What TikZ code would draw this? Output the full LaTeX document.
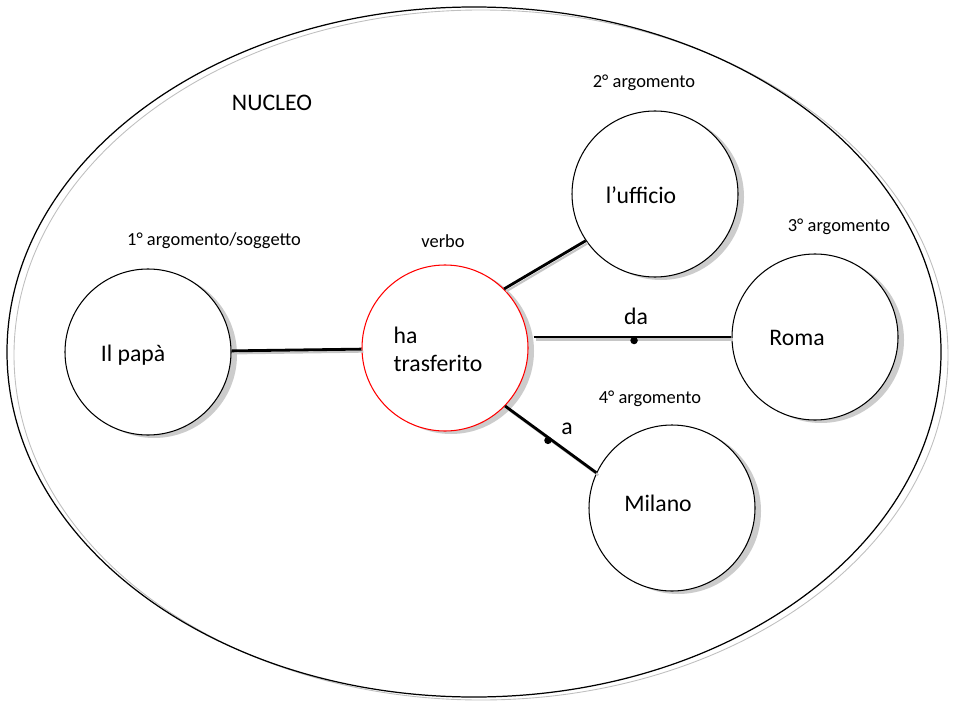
\documentclass[tikz,border=0pt]{standalone}
\usepackage{fontspec}
\setmainfont{Carlito}
\usetikzlibrary{shadows}
\usetikzlibrary{positioning}

\begin{document}
\begin{tikzpicture}[
  arg/.style={circle, draw, line width=0.6pt, fill=white, minimum size=3.32cm, inner sep=0pt,
    drop shadow={shadow xshift=0.12cm, shadow yshift=-0.06cm, fill=gray!40, opacity=1}},
  word/.style={font=\fontsize{13.5}{16}\selectfont, inner sep=1pt},
  tag/.style={font=\fontsize{10.5}{12}\selectfont, inner sep=1pt},
  link/.style={line width=1.6pt, preaction={draw=gray!45, line width=1.2pt, transform canvas={shift={(0.04cm,-0.05cm)}}}},
  prep/.style={circle, fill=black, minimum size=0.15cm, inner sep=0pt}]

 \useasboundingbox (0,0) rectangle (19.06,-14.18);

 % nucleo
 \draw[gray!50, line width=0.5pt] (9.62,-7.10) ellipse [x radius=9.34, y radius=6.90];
 \draw[line width=0.7pt] (9.48,-7.04) ellipse [x radius=9.34, y radius=6.90];
 \node[word] (nucleo) at (5.44,-2.06) {NUCLEO};

 % argomenti
 \node[arg] (papa) at (2.96,-7.04) {};
 \node[arg, draw=red] (ha) at (8.90,-6.96) {};
 \node[arg] (uff) at (13.10,-3.88) {};
 \node[arg] (roma) at (16.30,-6.74) {};
 \node[arg] (mil) at (13.44,-10.16) {};

 \node[word] (papatxt) at (2.66,-7.10) {Il papà};
 \node[word, align=left] (hatxt) at (8.76,-6.98) {ha\\trasferito};
 \node[word] (ufftxt) at (12.82,-3.90) {l’ufficio};
 \node[word] (romatxt) at (15.94,-6.76) {Roma};
 \node[word] (miltxt) at (13.16,-10.06) {Milano};

 \node[tag] (arg1) at (4.28,-4.82) {1° argomento/soggetto};
 \node[tag] (verbo) at (8.86,-4.82) {verbo};
 \node[tag] (arg2) at (12.88,-1.66) {2° argomento};
 \node[tag] (arg3) at (16.78,-4.54) {3° argomento};
 \node[tag] (arg4) at (13.00,-7.98) {4° argomento};

 % legami
 \draw[link] (papa) -- (ha);
 \draw[link] (ha.45) -- (uff.214);
 \draw[link, shorten <=0.1cm] (ha.east |- roma.west) -- (roma.west)
   node[prep, pos=.52, yshift=-0.07cm] (dotda) {}
   node[word, pos=.53, yshift=0.42cm] (da) {da};
 \draw[link] (ha.-44) -- (mil.155)
   node[prep, pos=.47, yshift=-0.06cm] (dota) {}
   node[word, pos=.68, yshift=0.46cm] (a) {a};

\end{tikzpicture}
\end{document}
